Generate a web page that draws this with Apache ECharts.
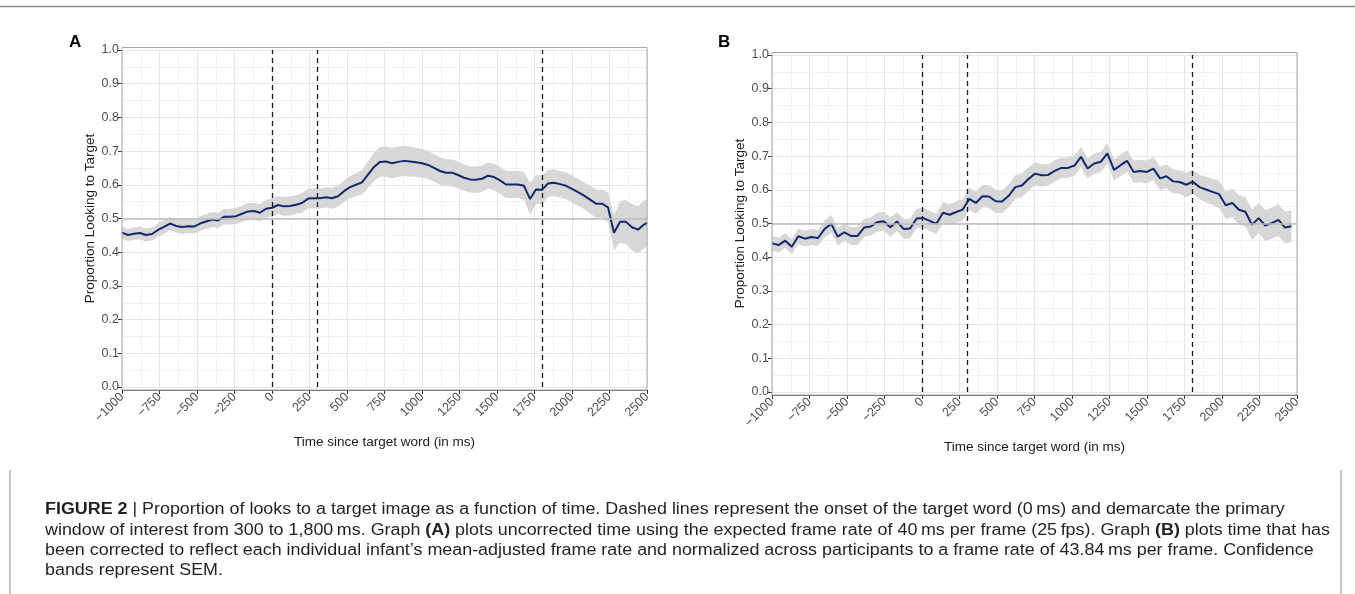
<!DOCTYPE html>
<html>
<head>
<meta charset="utf-8">
<title>Figure 2 - Proportion of looks to target</title>
<script src="https://cdn.jsdelivr.net/npm/echarts@6/dist/echarts.min.js"></script>
<style>
  html, body { margin: 0; padding: 0; background: #fff; }
  #chart { width: 1355px; height: 594px; }
</style>
</head>
<body>
<div id="chart"></div>
<script>
// axis ranges (ms / proportion)
const xMin = -1000, xMax = 2500, xStep = 250
const yMin = 0, yMax = 1, yStep = 0.1
const onsetLines = [0, 300, 1800]
const chanceLevel = 0.5

// panel A: uncorrected time, 40 ms frames
const timeA = [
  -1000, -960, -920, -880, -840, -800, -760, -720, -680, -640,
  -600, -560, -520, -480, -440, -400, -360, -320, -280, -240, -200, -160, -120, -80, -40,
  0, 40, 80, 120, 160, 200, 240, 280, 320, 360, 400, 440,
  480, 520, 560, 600, 640, 680,
  720, 760, 800, 840, 880, 920, 960, 1000,
  1040, 1080, 1120, 1160, 1200, 1240, 1280, 1320, 1360, 1400, 1440, 1480, 1520, 1560, 1600, 1640, 1680,
  1720, 1760, 1800,
  1840, 1880, 1920, 1960, 2000, 2040, 2080, 2120, 2160, 2200, 2240,
  2280, 2320, 2360, 2400, 2440, 2480, 2500
]
const propA = [
  0.458, 0.451, 0.455, 0.457, 0.451, 0.454, 0.466, 0.475, 0.485, 0.478,
  0.475, 0.477, 0.476, 0.485, 0.491, 0.497, 0.494, 0.505, 0.505, 0.507, 0.514, 0.521, 0.522, 0.517, 0.529,
  0.532, 0.540, 0.536, 0.537, 0.541, 0.546, 0.559, 0.560, 0.560, 0.563, 0.560, 0.566,
  0.581, 0.593, 0.600, 0.607, 0.630, 0.653,
  0.668, 0.669, 0.664, 0.668, 0.671, 0.669, 0.667, 0.664,
  0.659, 0.650, 0.641, 0.636, 0.636, 0.629, 0.621, 0.616, 0.615, 0.618, 0.627, 0.623, 0.613, 0.601, 0.601, 0.601, 0.597,
  0.558, 0.586, 0.585,
  0.604, 0.606, 0.602, 0.597, 0.588, 0.578, 0.568, 0.556, 0.544, 0.544, 0.533,
  0.458, 0.490, 0.490, 0.474, 0.467, 0.482, 0.487
]
const semA = [
  0.018, 0.018, 0.019, 0.019, 0.019, 0.019, 0.020, 0.020, 0.020, 0.020,
  0.021, 0.021, 0.021, 0.022, 0.022, 0.022, 0.023, 0.023, 0.023, 0.024, 0.024, 0.025, 0.025, 0.026, 0.026,
  0.027, 0.027, 0.028, 0.028, 0.028, 0.029, 0.029, 0.030, 0.030, 0.030, 0.031, 0.031,
  0.032, 0.033, 0.034, 0.036, 0.039, 0.042,
  0.044, 0.045, 0.045, 0.045, 0.045, 0.044, 0.043, 0.043,
  0.042, 0.041, 0.041, 0.040, 0.040, 0.040, 0.039, 0.039, 0.039, 0.039, 0.039, 0.039, 0.040, 0.040, 0.040, 0.040, 0.041,
  0.047, 0.043, 0.042,
  0.040, 0.040, 0.040, 0.040, 0.040, 0.040, 0.040, 0.041, 0.042, 0.042, 0.044,
  0.052, 0.062, 0.066, 0.068, 0.070, 0.072, 0.068
]

// panel B: corrected time, 43.84 ms frames
const timeB = [
  -1000, -956, -912, -868, -825, -781, -737, -693, -649, -605,
  -562, -518, -474, -430, -386, -342, -299, -255, -211, -167,
  -123, -79, -36, 8, 52, 96, 140, 184, 228, 271,
  315, 359, 403, 447, 491, 534, 578, 622, 666, 710,
  754, 797, 841, 885, 929, 973, 1017, 1060, 1104, 1148,
  1192, 1236, 1280, 1324, 1367, 1411, 1455, 1499, 1543, 1587,
  1630, 1674, 1718, 1762, 1806, 1850, 1893, 1937, 1981, 2025,
  2069, 2113, 2156, 2200, 2244, 2288, 2332, 2376, 2420, 2463
]
const propB = [
  0.441, 0.436, 0.449, 0.431, 0.462, 0.455, 0.460, 0.457, 0.484, 0.499,
  0.461, 0.474, 0.463, 0.463, 0.488, 0.491, 0.504, 0.507, 0.489, 0.506,
  0.484, 0.485, 0.515, 0.516, 0.508, 0.499, 0.532, 0.526, 0.534, 0.541,
  0.573, 0.561, 0.581, 0.580, 0.566, 0.565, 0.582, 0.608, 0.613, 0.632,
  0.648, 0.643, 0.644, 0.656, 0.665, 0.665, 0.672, 0.698, 0.663, 0.678,
  0.683, 0.708, 0.659, 0.673, 0.686, 0.653, 0.656, 0.653, 0.663, 0.634,
  0.640, 0.625, 0.623, 0.615, 0.624, 0.608, 0.601, 0.594, 0.587, 0.554,
  0.561, 0.541, 0.535, 0.496, 0.516, 0.494, 0.501, 0.511, 0.488, 0.492
]
const semB = [
  0.022, 0.022, 0.022, 0.023, 0.023, 0.023, 0.024, 0.024, 0.025, 0.026,
  0.026, 0.026, 0.026, 0.027, 0.027, 0.027, 0.028, 0.028, 0.028, 0.028,
  0.029, 0.029, 0.029, 0.030, 0.030, 0.030, 0.031, 0.031, 0.032, 0.032,
  0.033, 0.033, 0.033, 0.034, 0.034, 0.034, 0.034, 0.035, 0.035, 0.035,
  0.034, 0.033, 0.032, 0.031, 0.031, 0.030, 0.030, 0.030, 0.030, 0.030,
  0.030, 0.031, 0.031, 0.032, 0.032, 0.033, 0.033, 0.034, 0.034, 0.035,
  0.035, 0.035, 0.035, 0.036, 0.036, 0.037, 0.038, 0.039, 0.040, 0.041,
  0.042, 0.043, 0.044, 0.045, 0.045, 0.046, 0.046, 0.047, 0.047, 0.047
]

const captionLines = [
  '{b|FIGURE 2} | Proportion of looks to a target image as a function of time. Dashed lines represent the onset of the target word (0\u2009ms) and demarcate the primary',
  'window of interest from 300 to 1,800\u2009ms. Graph {b|(A)} plots uncorrected time using the expected frame rate of 40\u2009ms per frame (25\u2009fps). Graph {b|(B)} plots time that has',
  'been corrected to reflect each individual infant\u2019s mean-adjusted frame rate and normalized across participants to a frame rate of 43.84\u2009ms per frame. Confidence',
  'bands represent SEM.'
]

const FONT = '"Liberation Sans", Arial, Helvetica, sans-serif'
const LINE_COLOR = '#13296b'
const BAND_COLOR = '#d7d7d7'
const CAPTION_SIZE = 16

// plot panels (pixel boxes of the data area)
const panels = [
  { left: 122, top: 50, width: 525, height: 337, letter: 'A', letterX: 69 },
  { left: 772, top: 55, width: 525, height: 337, letter: 'B', letterX: 718 },
]

const chart = echarts.init(document.getElementById('chart'), null, { renderer: 'canvas' })

function fmtTime(v) {
  return v < 0 ? '\u2212' + Math.abs(v) : String(v)
}

function xAxisFor(i) {
  return {
    gridIndex: i, type: 'value', min: xMin, max: xMax, interval: xStep,
    offset: 3,
    axisLine: { show: true, onZero: false, lineStyle: { color: '#555', width: 1.2 } },
    axisTick: { show: true, length: 4, lineStyle: { color: '#333', width: 1 } },
    axisLabel: {
      rotate: 45, margin: 5, color: '#4d4d4d', fontSize: 12.5, fontFamily: FONT,
      showMinLabel: true, showMaxLabel: true, formatter: fmtTime,
    },
    splitLine: { show: true, lineStyle: { color: '#e6e6e6', width: 1 } },
    minorTick: { show: false, splitNumber: 2 },
    minorSplitLine: { show: true, lineStyle: { color: '#f2f2f2', width: 1 } },
    name: 'Time since target word (in ms)', nameLocation: 'middle', nameGap: 45,
    nameTextStyle: { color: '#1a1a1a', fontSize: 13.5, fontFamily: FONT },
  }
}

function yAxisFor(i) {
  return {
    gridIndex: i, type: 'value', min: yMin, max: yMax, interval: yStep,
    position: 'left',
    axisLine: { show: false, onZero: false },
    axisTick: { show: true, length: 4, lineStyle: { color: '#333', width: 1 } },
    axisLabel: {
      margin: 3, color: '#4d4d4d', fontSize: 12.5, fontFamily: FONT,
      formatter: v => v.toFixed(1),
    },
    splitLine: { show: true, lineStyle: { color: '#e6e6e6', width: 1 } },
    minorTick: { show: false, splitNumber: 2 },
    minorSplitLine: { show: true, lineStyle: { color: '#f2f2f2', width: 1 } },
    name: 'Proportion Looking to Target', nameLocation: 'middle', nameGap: 24,
    nameTextStyle: { color: '#1a1a1a', fontSize: 13.5, fontFamily: FONT },
  }
}

// SEM ribbon as one polygon, points placed with the axis scales
function bandSeries(i, times, mean, sem) {
  return {
    type: 'custom', xAxisIndex: i, yAxisIndex: i, silent: true, z: 2,
    data: times.map((t, k) => [t, mean[k] - sem[k], mean[k] + sem[k]]),
    encode: { x: 0, y: [1, 2] },
    renderItem(params, api) {
      if (params.dataIndex !== 0) return null
      const upper = times.map((t, k) => api.coord([t, mean[k] + sem[k]]))
      const lower = times.map((t, k) => api.coord([t, mean[k] - sem[k]])).reverse()
      return {
        type: 'polygon',
        shape: { points: upper.concat(lower) },
        style: { fill: BAND_COLOR, stroke: null },
      }
    },
  }
}

function panelSeries(i, times, mean, sem) {
  return [
    bandSeries(i, times, mean, sem),
    {
      type: 'line', xAxisIndex: i, yAxisIndex: i, silent: true,
      symbol: 'none', z: 3,
      lineStyle: { color: LINE_COLOR, width: 2 },
      data: times.map((t, k) => [t, mean[k]]),
      markLine: {
        silent: true, symbol: 'none', label: { show: false }, z: 5,
        emphasis: { disabled: true },
        data: [
          ...onsetLines.map(x => ({ xAxis: x, lineStyle: { type: [5, 4], color: '#1a1a1a', width: 1.3 } })),
          { yAxis: chanceLevel, lineStyle: { type: 'solid', color: '#bdbdbd', width: 1.6 } },
        ],
      },
    },
  ]
}

// caption scaling so that the long line fills the text block width
const measureCtx = document.createElement('canvas').getContext('2d')
measureCtx.font = CAPTION_SIZE + 'px ' + FONT
const plain = captionLines[1].replace(/\{b\|([^}]*)\}/g, '$1')
const captionScale = 1283 / measureCtx.measureText(plain).width

const graphics = [
  { type: 'line', shape: { x1: 0, y1: 6.5, x2: 1355, y2: 6.5 }, style: { stroke: '#8c8c8c', lineWidth: 1.5 } },
  { type: 'line', shape: { x1: 10, y1: 470, x2: 10, y2: 594 }, style: { stroke: '#8c8c8c', lineWidth: 1 } },
  { type: 'line', shape: { x1: 1341, y1: 470, x2: 1341, y2: 594 }, style: { stroke: '#8c8c8c', lineWidth: 1 } },
]
panels.forEach(p => {
  graphics.push({
    type: 'rect', z: 10, silent: true,
    shape: { x: p.left, y: p.top - 2.5, width: p.width, height: p.height + 5.5 },
    style: { fill: 'none', stroke: '#a8a8a8', lineWidth: 1 },
  })
  graphics.push({
    type: 'text', x: p.letterX, y: 42,
    style: { text: p.letter, fontSize: 17, fontWeight: 'bold', fontFamily: FONT, fill: '#000', verticalAlign: 'middle' },
  })
})
captionLines.forEach((line, k) => {
  graphics.push({
    type: 'text', x: 45, y: 510 + k * 20.3, scaleX: captionScale,
    style: {
      text: line, fontSize: CAPTION_SIZE, fontFamily: FONT, fill: '#231f20', verticalAlign: 'middle',
      rich: { b: { fontSize: CAPTION_SIZE, fontFamily: FONT, fontWeight: 'bold', fill: '#231f20' } },
    },
  })
})

chart.setOption({
  animation: false,
  textStyle: { fontFamily: FONT },
  grid: panels.map(p => ({
    left: p.left, top: p.top, width: p.width, height: p.height,
    containLabel: false, outerBoundsMode: 'none', show: false,
  })),
  xAxis: [xAxisFor(0), xAxisFor(1)],
  yAxis: [yAxisFor(0), yAxisFor(1)],
  series: [
    ...panelSeries(0, timeA, propA, semA),
    ...panelSeries(1, timeB, propB, semB),
  ],
  graphic: graphics,
})

window.addEventListener('resize', () => chart.resize())
</script>
</body>
</html>
